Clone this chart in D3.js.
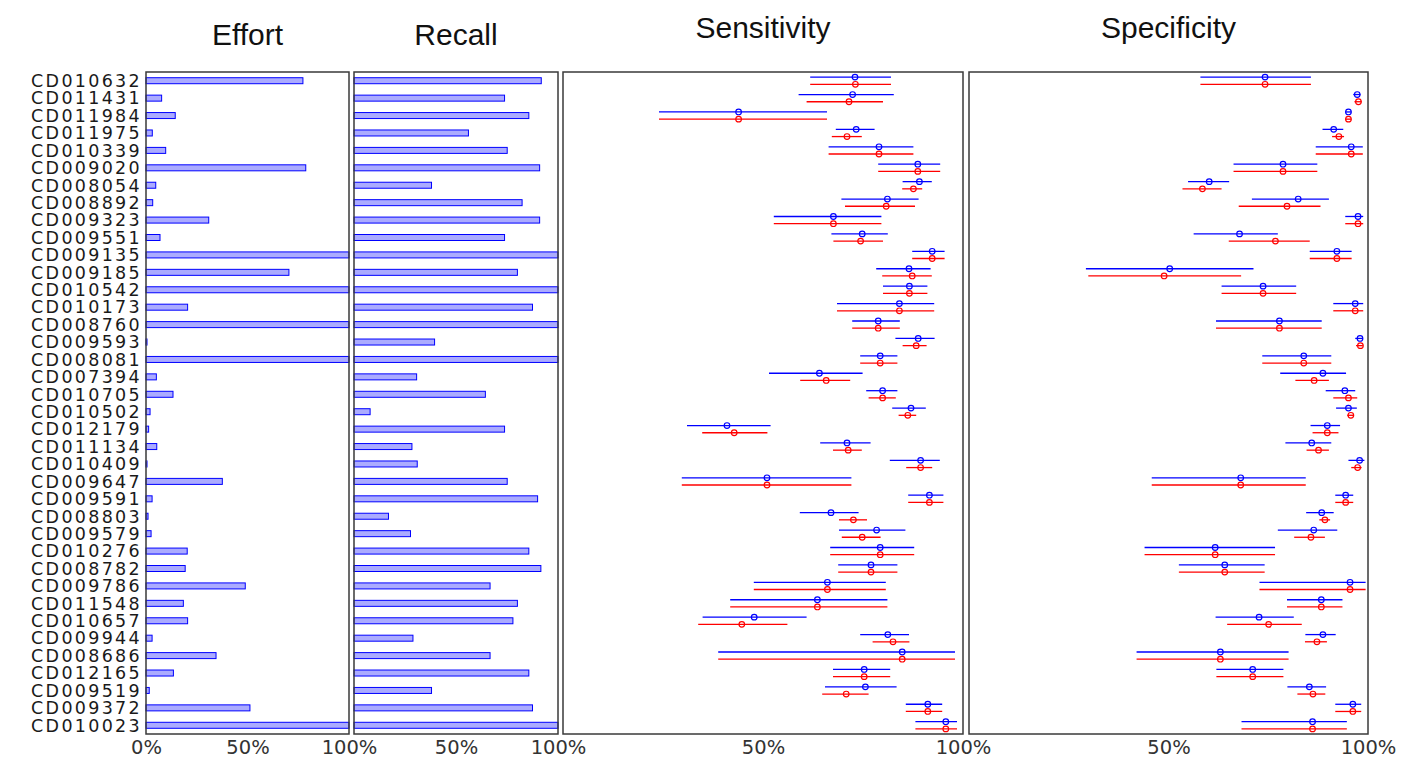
<!DOCTYPE html>
<html>
<head>
<meta charset="utf-8">
<script src="https://cdn.jsdelivr.net/npm/d3@7/dist/d3.min.js"></script>
<style>
  html, body { margin: 0; padding: 0; background: #fff; }
  svg { display: block; }
</style>
</head>
<body>
<svg id="chart" width="1402" height="760"></svg>
<script>
const categories = ["CD010632","CD011431","CD011984","CD011975","CD010339","CD009020","CD008054","CD008892","CD009323","CD009551","CD009135","CD009185","CD010542","CD010173","CD008760","CD009593","CD008081","CD007394","CD010705","CD010502","CD012179","CD011134","CD010409","CD009647","CD009591","CD008803","CD009579","CD010276","CD008782","CD009786","CD011548","CD010657","CD009944","CD008686","CD012165","CD009519","CD009372","CD010023"];

const effort = [0.773,0.077,0.144,0.031,0.097,0.787,0.048,0.033,0.309,0.069,1.0,0.704,1.0,0.205,1.0,0.005,1.0,0.051,0.133,0.02,0.013,0.053,0.005,0.376,0.03,0.01,0.025,0.203,0.193,0.489,0.184,0.205,0.03,0.345,0.135,0.016,0.512,1.0];
const recall = [0.918,0.738,0.857,0.561,0.751,0.91,0.38,0.824,0.91,0.738,1.0,0.801,1.0,0.875,1.0,0.395,1.0,0.307,0.644,0.079,0.738,0.284,0.31,0.751,0.90,0.169,0.277,0.857,0.916,0.667,0.801,0.779,0.289,0.667,0.857,0.38,0.875,1.0];

// Sensitivity (blue = first estimate, red = second estimate)
const sensBlue   = [0.730,0.724,0.439,0.733,0.790,0.887,0.891,0.811,0.676,0.748,0.923,0.865,0.866,0.841,0.788,0.888,0.793,0.641,0.799,0.870,0.410,0.710,0.894,0.510,0.916,0.670,0.784,0.793,0.770,0.661,0.636,0.478,0.812,0.848,0.753,0.756,0.912,0.957];
const sensBlueLo = [0.618,0.589,0.240,0.682,0.664,0.788,0.849,0.696,0.527,0.671,0.873,0.783,0.800,0.685,0.723,0.831,0.743,0.515,0.758,0.823,0.310,0.643,0.817,0.297,0.863,0.592,0.690,0.668,0.688,0.477,0.418,0.349,0.743,0.388,0.675,0.655,0.857,0.881];
const sensBlueHi = [0.820,0.827,0.660,0.779,0.876,0.943,0.922,0.889,0.796,0.812,0.954,0.919,0.911,0.928,0.842,0.929,0.836,0.749,0.836,0.907,0.519,0.769,0.942,0.721,0.951,0.739,0.856,0.878,0.836,0.807,0.811,0.609,0.865,0.980,0.818,0.834,0.948,0.985];
const sensRed    = [0.731,0.715,0.439,0.710,0.790,0.887,0.876,0.808,0.676,0.744,0.923,0.873,0.866,0.841,0.788,0.883,0.793,0.658,0.799,0.862,0.428,0.713,0.894,0.510,0.916,0.726,0.748,0.793,0.770,0.661,0.636,0.447,0.825,0.848,0.753,0.708,0.912,0.957];
const sensRedLo  = [0.618,0.609,0.240,0.672,0.664,0.788,0.848,0.705,0.527,0.676,0.873,0.798,0.800,0.685,0.723,0.849,0.743,0.593,0.764,0.839,0.348,0.675,0.858,0.297,0.863,0.690,0.697,0.668,0.688,0.477,0.418,0.338,0.774,0.388,0.675,0.648,0.857,0.881];
const sensRedHi  = [0.820,0.800,0.660,0.747,0.876,0.943,0.898,0.880,0.796,0.800,0.954,0.922,0.911,0.928,0.842,0.909,0.836,0.718,0.832,0.883,0.511,0.747,0.923,0.721,0.951,0.760,0.794,0.878,0.836,0.807,0.811,0.561,0.866,0.980,0.818,0.764,0.948,0.985];

// Specificity
const specBlue   = [0.742,0.973,0.951,0.914,0.958,0.787,0.602,0.825,0.975,0.678,0.922,0.503,0.737,0.968,0.778,0.980,0.839,0.887,0.942,0.951,0.898,0.859,0.979,0.681,0.944,0.884,0.864,0.617,0.641,0.955,0.883,0.727,0.887,0.630,0.711,0.853,0.962,0.861];
const specBlueLo = [0.580,0.963,0.943,0.886,0.869,0.663,0.549,0.709,0.943,0.563,0.854,0.293,0.633,0.913,0.619,0.968,0.735,0.780,0.894,0.920,0.856,0.793,0.951,0.458,0.918,0.845,0.774,0.440,0.526,0.728,0.797,0.618,0.843,0.420,0.620,0.798,0.918,0.683];
const specBlueHi = [0.857,0.981,0.958,0.938,0.987,0.873,0.652,0.902,0.988,0.774,0.959,0.713,0.820,0.988,0.884,0.987,0.908,0.945,0.968,0.972,0.930,0.908,0.991,0.844,0.963,0.914,0.923,0.767,0.741,0.994,0.936,0.814,0.919,0.801,0.788,0.895,0.983,0.947];
const specRed    = [0.742,0.976,0.951,0.927,0.958,0.787,0.585,0.797,0.975,0.768,0.922,0.489,0.737,0.968,0.778,0.981,0.839,0.865,0.951,0.957,0.898,0.876,0.974,0.681,0.944,0.892,0.857,0.617,0.641,0.955,0.883,0.751,0.872,0.630,0.711,0.862,0.962,0.861];
const specRedLo  = [0.580,0.966,0.943,0.910,0.869,0.663,0.535,0.676,0.943,0.651,0.854,0.299,0.633,0.913,0.619,0.970,0.735,0.818,0.913,0.948,0.861,0.846,0.958,0.458,0.918,0.878,0.815,0.440,0.526,0.728,0.797,0.647,0.842,0.420,0.620,0.823,0.918,0.683];
const specRedHi  = [0.857,0.984,0.958,0.940,0.987,0.873,0.633,0.881,0.988,0.854,0.959,0.682,0.820,0.988,0.884,0.987,0.908,0.902,0.973,0.965,0.926,0.902,0.984,0.844,0.963,0.905,0.892,0.767,0.741,0.994,0.936,0.834,0.897,0.801,0.788,0.893,0.983,0.947];

const tickValues = [0, 0.5, 1];
const titles = ["Effort", "Recall", "Sensitivity", "Specificity"];

const svg = d3.select("#chart");
const plotTop = 72, plotBottom = 734;
const y = d3.scaleBand().domain(categories).range([plotTop, plotBottom]).padding(0);

const panels = [
  {title: titles[0], x0: 146, x1: 349, type: "bar", vals: effort, titleY: 45, showZero: true},
  {title: titles[1], x0: 354, x1: 558, type: "bar", vals: recall, titleY: 45, showZero: false},
  {title: titles[2], x0: 563, x1: 963, type: "ci", titleY: 38, showZero: false,
   blue: [sensBlue, sensBlueLo, sensBlueHi], red: [sensRed, sensRedLo, sensRedHi]},
  {title: titles[3], x0: 969, x1: 1368, type: "ci", titleY: 38, showZero: false,
   blue: [specBlue, specBlueLo, specBlueHi], red: [specRed, specRedLo, specRedHi]}
];

// row labels
svg.append("g").selectAll("text").data(categories).join("text")
  .attr("x", 142)
  .attr("y", d => y(d) + y.bandwidth() / 2)
  .attr("dy", "0.36em")
  .attr("text-anchor", "end")
  .attr("font-family", "DejaVu Sans")
  .attr("font-size", 17.5)
  .attr("letter-spacing", "2.3px")
  .attr("fill", "#1a1a1a")
  .text(d => d);

panels.forEach(p => {
  const x = d3.scaleLinear().domain([0, 1]).range([p.x0, p.x1]);
  const g = svg.append("g");

  if (p.type === "bar") {
    g.selectAll("rect").data(categories).join("rect")
      .attr("x", x(0))
      .attr("y", d => y(d) + y.bandwidth() / 2 - 3)
      .attr("width", (d, i) => Math.max(0.5, x(p.vals[i]) - x(0)))
      .attr("height", 6)
      .attr("fill", "rgba(0,0,255,0.33)")
      .attr("stroke", "#0000ff")
      .attr("stroke-width", 1);
  } else {
    const series = [
      {arr: p.blue, color: "#0000ff", off: -3.6},
      {arr: p.red, color: "#ff0000", off: 3.6}
    ];
    series.forEach(s => {
      const [pt, lo, hi] = s.arr;
      const sg = g.append("g");
      sg.selectAll("line").data(categories).join("line")
        .attr("x1", (d, i) => x(lo[i]))
        .attr("x2", (d, i) => x(hi[i]))
        .attr("y1", d => y(d) + y.bandwidth() / 2 + s.off)
        .attr("y2", d => y(d) + y.bandwidth() / 2 + s.off)
        .attr("stroke", s.color)
        .attr("stroke-width", 1.3);
      sg.selectAll("circle").data(categories).join("circle")
        .attr("cx", (d, i) => x(pt[i]))
        .attr("cy", d => y(d) + y.bandwidth() / 2 + s.off)
        .attr("r", 2.8)
        .attr("fill", "none")
        .attr("stroke", s.color)
        .attr("stroke-width", 1.2);
    });
  }

  // frame
  g.append("rect")
    .attr("x", p.x0).attr("y", plotTop)
    .attr("width", p.x1 - p.x0).attr("height", plotBottom - plotTop)
    .attr("fill", "none")
    .attr("stroke", "#3a3a3a")
    .attr("stroke-width", 1.5);

  // axis
  const ax = svg.append("g")
    .attr("transform", `translate(0,${plotBottom})`)
    .call(d3.axisBottom(x)
      .tickValues(p.showZero ? tickValues : tickValues.slice(1))
      .tickSize(0)
      .tickPadding(6)
      .tickFormat(d3.format(".0%")));
  ax.select(".domain").remove();
  ax.selectAll("text")
    .attr("font-family", "DejaVu Sans")
    .attr("font-size", 19.5)
    .attr("fill", "#333");

  // title
  svg.append("text")
    .attr("x", (p.x0 + p.x1) / 2)
    .attr("y", p.titleY)
    .attr("text-anchor", "middle")
    .attr("font-family", "Liberation Sans")
    .attr("font-size", 30)
    .attr("fill", "#111")
    .text(p.title);
});
</script>
</body>
</html>
